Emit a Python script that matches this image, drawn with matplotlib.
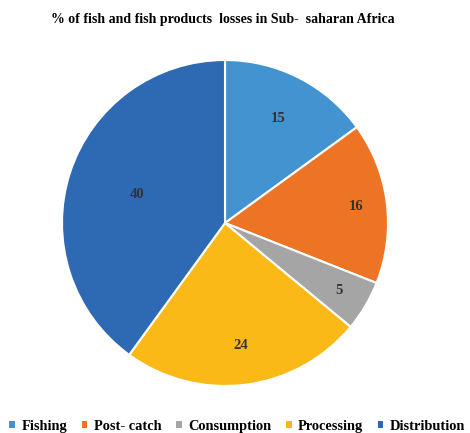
import numpy as np
import matplotlib.pyplot as plt

labels = ['Fishing', 'Post- catch', 'Consumption', 'Processing', 'Distribution']
values = [15, 16, 5, 24, 40]
colors = ['#4393D0', '#EE7425', '#A5A5A5', '#FBB918', '#2E69B3']
# radial position of each value label (fraction of radius)
label_r = [0.72, 0.81, 0.81, 0.76, 0.57]

plt.rcParams['font.family'] = ['Liberation Serif', 'DejaVu Serif']

fig = plt.figure(figsize=(4.7, 4.33), dpi=100)
# pie centre about (225, 223) px, radius about 163 px
ax = fig.add_axes([(225 - 163) / 470, 1 - (223 + 163) / 433, 326 / 470, 326 / 433])

wedges, texts = ax.pie(values, colors=colors, startangle=90, counterclock=False,
                       wedgeprops=dict(edgecolor='white', linewidth=1.5))
for w, v, r in zip(wedges, values, label_r):
    ang = np.deg2rad((w.theta1 + w.theta2) / 2)
    ax.text(r * np.cos(ang), r * np.sin(ang), str(v), ha='center', va='center',
            fontsize=10.5, fontweight='bold', color='#333333')
ax.set_xlim(-1, 1)
ax.set_ylim(-1, 1)
ax.set_aspect('equal')

fig.text(0.475, 0.956, '% of fish and fish products  losses in Sub-  saharan Africa',
         ha='center', va='center', fontsize=10, fontweight='bold')

leg = fig.legend(wedges, labels, loc='center', bbox_to_anchor=(0.505, 0.016), ncol=5,
                 frameon=False, prop=dict(weight='bold', size=10.4),
                 handlelength=0.4, handleheight=0.4, handletextpad=0.45, columnspacing=1.0)
for h in leg.legend_handles:
    h.set_edgecolor('none')

fig.savefig('out.png', dpi=100)
